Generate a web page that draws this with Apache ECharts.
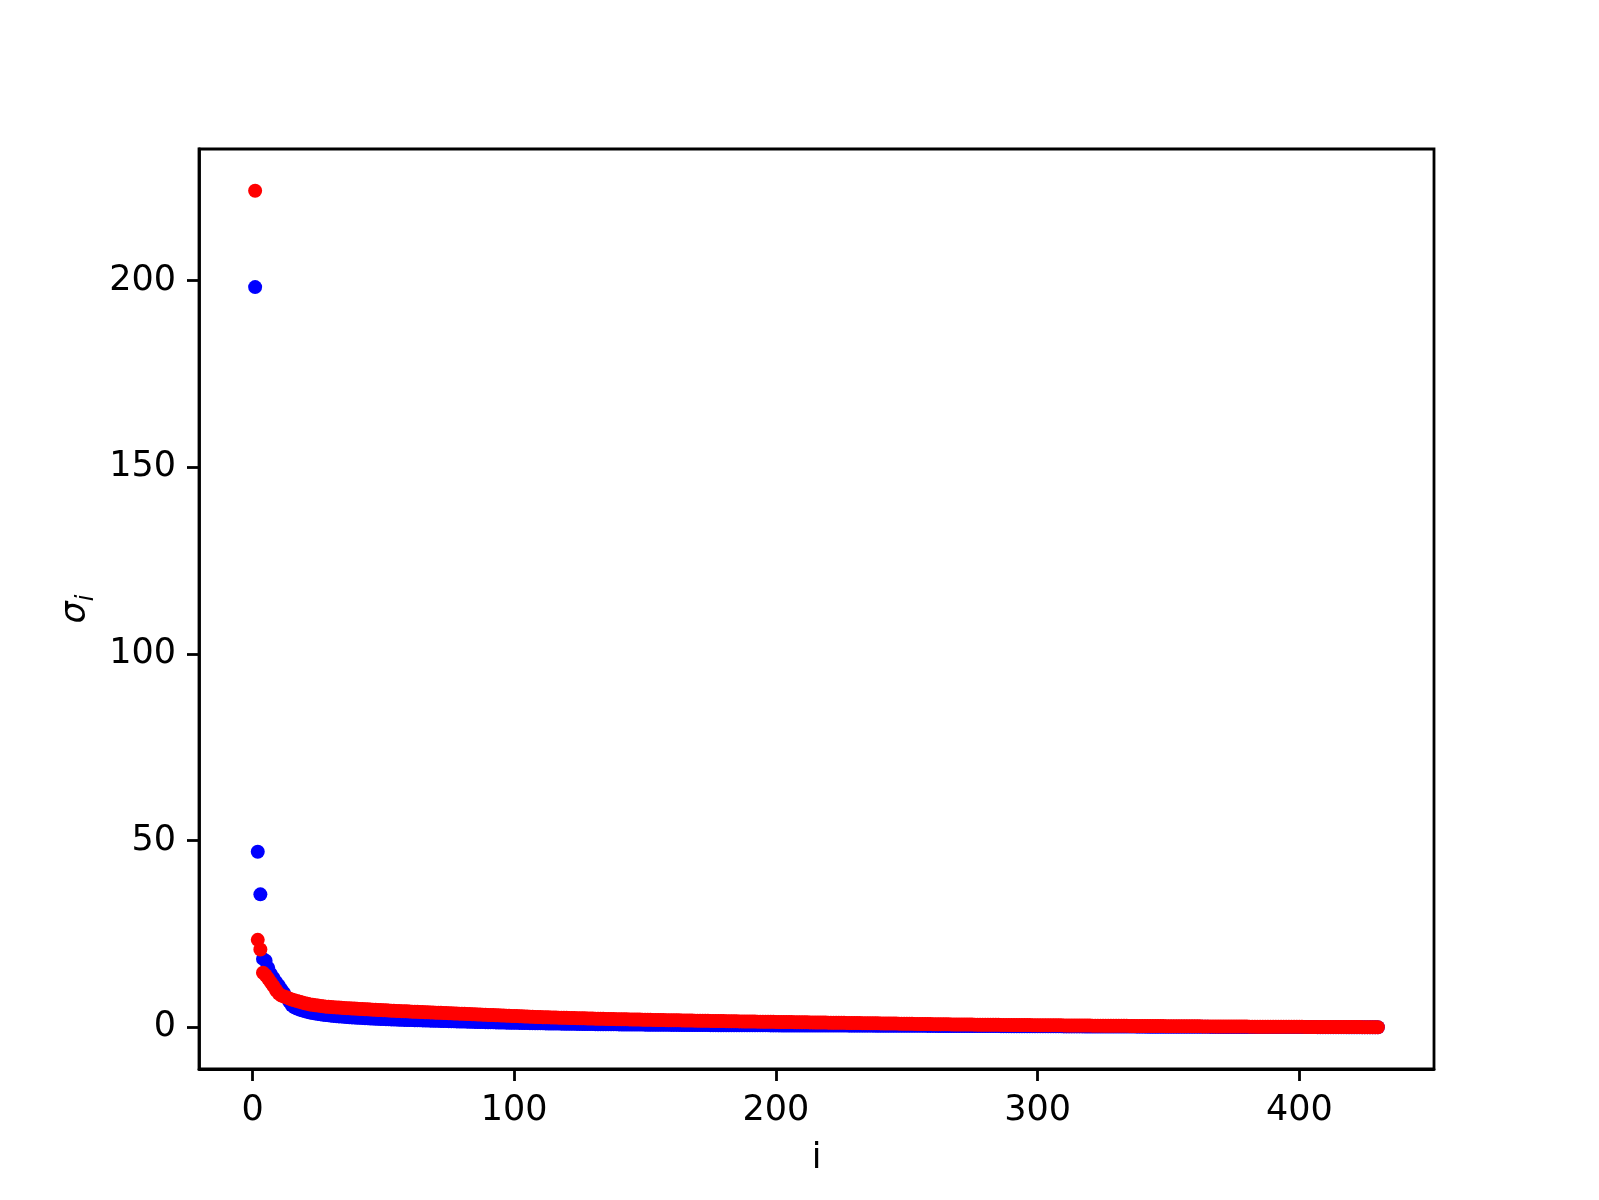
<!DOCTYPE html>
<html>
<head>
<meta charset="utf-8">
<script src="https://cdn.jsdelivr.net/npm/echarts@6/dist/echarts.min.js"></script>
<style>
html,body{margin:0;padding:0;background:#fff;}
#chart{width:1599px;height:1200px;}
</style>
</head>
<body>
<div id="chart"></div>
<script>
// singular values, blue series (index 1..430)
const blueValues = [
198.3, 47.0, 35.6, 18.3, 17.8, 15.9, 14.3, 13.2, 12.1, 11.2,
10.1, 9.2, 8.0, 6.9, 5.9, 5.3, 5.0, 4.7, 4.5, 4.3,
4.1, 3.95, 3.8, 3.68, 3.56, 3.45, 3.35, 3.26, 3.18, 3.10,
3.03, 2.96, 2.90, 2.84, 2.78, 2.73, 2.68, 2.63, 2.58, 2.54,
2.50, 2.46, 2.42, 2.38, 2.34, 2.30, 2.27, 2.24, 2.21, 2.18,
2.15, 2.12, 2.09, 2.06, 2.03, 2.00, 1.98, 1.96, 1.94, 1.92,
1.90, 1.88, 1.86, 1.84, 1.82, 1.80, 1.78, 1.76, 1.74, 1.72,
1.70, 1.68, 1.66, 1.64, 1.62, 1.60, 1.58, 1.56, 1.54, 1.52,
1.50, 1.48, 1.46, 1.44, 1.42, 1.40, 1.39, 1.37, 1.35, 1.34,
1.32, 1.30, 1.29, 1.27, 1.25, 1.24, 1.22, 1.21, 1.19, 1.18,
1.16, 1.15, 1.13, 1.12, 1.11, 1.09, 1.08, 1.07, 1.05, 1.04,
1.03, 1.02, 1.00, 0.99, 0.98, 0.97, 0.96, 0.95, 0.94, 0.93,
0.92, 0.91, 0.90, 0.89, 0.88, 0.87, 0.86, 0.85, 0.84, 0.83,
0.82, 0.81, 0.80, 0.80, 0.79, 0.78, 0.77, 0.76, 0.76, 0.75,
0.74, 0.73, 0.73, 0.72, 0.71, 0.71, 0.70, 0.69, 0.69, 0.68,
0.67, 0.67, 0.66, 0.66, 0.65, 0.64, 0.64, 0.63, 0.63, 0.62,
0.62, 0.61, 0.61, 0.60, 0.60, 0.59, 0.59, 0.58, 0.58, 0.57,
0.57, 0.57, 0.56, 0.56, 0.55, 0.55, 0.55, 0.54, 0.54, 0.54,
0.53, 0.53, 0.53, 0.52, 0.52, 0.52, 0.51, 0.51, 0.51, 0.50,
0.50, 0.50, 0.50, 0.49, 0.49, 0.49, 0.49, 0.48, 0.48, 0.48,
0.48, 0.47, 0.47, 0.47, 0.47, 0.47, 0.46, 0.46, 0.46, 0.46,
0.46, 0.45, 0.45, 0.45, 0.45, 0.45, 0.44, 0.44, 0.44, 0.44,
0.44, 0.44, 0.43, 0.43, 0.43, 0.43, 0.43, 0.42, 0.42, 0.42,
0.42, 0.42, 0.41, 0.41, 0.41, 0.41, 0.41, 0.40, 0.40, 0.40,
0.40, 0.39, 0.39, 0.39, 0.39, 0.38, 0.38, 0.38, 0.38, 0.37,
0.37, 0.37, 0.37, 0.36, 0.36, 0.36, 0.36, 0.35, 0.35, 0.35,
0.35, 0.34, 0.34, 0.34, 0.34, 0.33, 0.33, 0.33, 0.33, 0.32,
0.32, 0.32, 0.32, 0.31, 0.31, 0.31, 0.31, 0.30, 0.30, 0.30,
0.30, 0.29, 0.29, 0.29, 0.29, 0.28, 0.28, 0.28, 0.28, 0.27,
0.27, 0.27, 0.27, 0.26, 0.26, 0.26, 0.26, 0.25, 0.25, 0.25,
0.25, 0.24, 0.24, 0.24, 0.24, 0.23, 0.23, 0.23, 0.23, 0.22,
0.22, 0.22, 0.22, 0.21, 0.21, 0.21, 0.21, 0.20, 0.20, 0.20,
0.20, 0.19, 0.19, 0.19, 0.19, 0.18, 0.18, 0.18, 0.18, 0.17,
0.17, 0.17, 0.17, 0.16, 0.16, 0.16, 0.16, 0.15, 0.15, 0.15,
0.15, 0.14, 0.14, 0.14, 0.14, 0.13, 0.13, 0.13, 0.13, 0.12,
0.12, 0.12, 0.12, 0.11, 0.11, 0.11, 0.11, 0.10, 0.10, 0.10,
0.10, 0.09, 0.09, 0.09, 0.09, 0.08, 0.08, 0.08, 0.08, 0.07,
0.07, 0.07, 0.07, 0.07, 0.06, 0.06, 0.06, 0.06, 0.06, 0.05,
0.05, 0.05, 0.05, 0.05, 0.05, 0.04, 0.04, 0.04, 0.04, 0.04,
0.04, 0.03, 0.03, 0.03, 0.03, 0.03, 0.03, 0.03, 0.02, 0.02,
0.02, 0.02, 0.02, 0.02, 0.02, 0.02, 0.01, 0.01, 0.01, 0.01,
0.01, 0.01, 0.01, 0.01, 0.01, 0.01, 0.01, 0.00, 0.00, 0.00,
0.00, 0.00, 0.00, 0.00, 0.00, 0.00, 0.00, 0.00, 0.00, 0.00
];

// singular values, red series (index 1..430)
const redValues = [
224.1, 23.4, 20.8, 14.6, 13.9, 13.0, 12.0, 11.0, 9.9, 9.0,
8.5, 8.2, 8.0, 7.7, 7.4, 7.2, 7.0, 6.8, 6.6, 6.4,
6.25, 6.1, 6.0, 5.9, 5.8, 5.7, 5.6, 5.5, 5.45, 5.4,
5.35, 5.3, 5.25, 5.2, 5.15, 5.1, 5.06, 5.02, 4.98, 4.94,
4.9, 4.86, 4.82, 4.78, 4.74, 4.70, 4.66, 4.62, 4.58, 4.55,
4.51, 4.48, 4.44, 4.41, 4.37, 4.34, 4.30, 4.27, 4.24, 4.20,
4.17, 4.14, 4.11, 4.08, 4.05, 4.02, 3.99, 3.96, 3.93, 3.90,
3.87, 3.84, 3.81, 3.78, 3.75, 3.72, 3.69, 3.66, 3.63, 3.60,
3.57, 3.54, 3.51, 3.48, 3.45, 3.42, 3.39, 3.36, 3.33, 3.30,
3.27, 3.24, 3.21, 3.18, 3.15, 3.12, 3.09, 3.06, 3.03, 3.00,
2.97, 2.94, 2.91, 2.88, 2.85, 2.82, 2.79, 2.76, 2.73, 2.70,
2.68, 2.66, 2.64, 2.62, 2.60, 2.58, 2.56, 2.54, 2.52, 2.50,
2.48, 2.46, 2.44, 2.42, 2.40, 2.38, 2.37, 2.35, 2.33, 2.31,
2.29, 2.28, 2.26, 2.24, 2.23, 2.21, 2.19, 2.18, 2.16, 2.15,
2.13, 2.12, 2.10, 2.09, 2.07, 2.06, 2.04, 2.03, 2.01, 2.00,
1.99, 1.97, 1.96, 1.95, 1.93, 1.92, 1.91, 1.89, 1.88, 1.87,
1.86, 1.84, 1.83, 1.82, 1.81, 1.79, 1.78, 1.77, 1.76, 1.75,
1.73, 1.72, 1.71, 1.70, 1.69, 1.68, 1.66, 1.65, 1.64, 1.63,
1.62, 1.61, 1.60, 1.58, 1.57, 1.56, 1.55, 1.54, 1.53, 1.52,
1.51, 1.50, 1.49, 1.48, 1.47, 1.46, 1.45, 1.44, 1.43, 1.42,
1.41, 1.40, 1.39, 1.38, 1.37, 1.36, 1.35, 1.34, 1.33, 1.32,
1.31, 1.30, 1.29, 1.28, 1.27, 1.26, 1.25, 1.24, 1.23, 1.22,
1.21, 1.20, 1.19, 1.18, 1.17, 1.16, 1.15, 1.14, 1.13, 1.12,
1.11, 1.10, 1.09, 1.08, 1.07, 1.06, 1.05, 1.04, 1.03, 1.02,
1.01, 1.00, 0.99, 0.98, 0.97, 0.96, 0.95, 0.94, 0.93, 0.92,
0.91, 0.90, 0.89, 0.88, 0.87, 0.86, 0.85, 0.84, 0.83, 0.82,
0.81, 0.80, 0.79, 0.78, 0.77, 0.76, 0.75, 0.74, 0.73, 0.72,
0.71, 0.71, 0.70, 0.70, 0.69, 0.68, 0.68, 0.67, 0.67, 0.66,
0.65, 0.65, 0.64, 0.64, 0.63, 0.62, 0.62, 0.61, 0.61, 0.60,
0.59, 0.59, 0.58, 0.58, 0.57, 0.56, 0.56, 0.55, 0.55, 0.54,
0.53, 0.53, 0.52, 0.52, 0.51, 0.50, 0.50, 0.49, 0.49, 0.48,
0.47, 0.47, 0.46, 0.46, 0.45, 0.45, 0.44, 0.44, 0.43, 0.43,
0.42, 0.42, 0.41, 0.41, 0.40, 0.40, 0.39, 0.39, 0.38, 0.38,
0.37, 0.37, 0.36, 0.36, 0.35, 0.35, 0.34, 0.34, 0.33, 0.33,
0.32, 0.32, 0.31, 0.31, 0.30, 0.30, 0.29, 0.29, 0.28, 0.28,
0.27, 0.27, 0.26, 0.26, 0.26, 0.25, 0.25, 0.24, 0.24, 0.24,
0.23, 0.23, 0.22, 0.22, 0.22, 0.21, 0.21, 0.20, 0.20, 0.20,
0.19, 0.19, 0.18, 0.18, 0.18, 0.17, 0.17, 0.16, 0.16, 0.16,
0.15, 0.15, 0.15, 0.14, 0.14, 0.14, 0.13, 0.13, 0.13, 0.12,
0.12, 0.12, 0.11, 0.11, 0.11, 0.10, 0.10, 0.10, 0.09, 0.09,
0.09, 0.08, 0.08, 0.08, 0.07, 0.07, 0.07, 0.06, 0.06, 0.06,
0.05, 0.05, 0.05, 0.04, 0.04, 0.04, 0.03, 0.03, 0.03, 0.02,
0.02, 0.02, 0.02, 0.01, 0.01, 0.01, 0.01, 0.00, 0.00, 0.00
];

const xTickValues = [0, 100, 200, 300, 400];
const yTickValues = [0, 50, 100, 150, 200];
const xAxisName = 'i';

const blueData = blueValues.map((v, k) => [k + 1, v]);
const redData = redValues.map((v, k) => [k + 1, v]);

const FONT = 'DejaVu Sans';
const LW = 2.8;

const chart = echarts.init(document.getElementById('chart'), null, {renderer: 'canvas'});
chart.setOption({
  animation: false,
  backgroundColor: '#ffffff',
  grid: {
    left: 199, right: 165, top: 149, bottom: 131,
    show: true, borderColor: '#000', borderWidth: LW, backgroundColor: 'transparent'
  },
  xAxis: {
    type: 'value',
    min: -20.45, max: 451.45,
    name: xAxisName,
    nameLocation: 'middle',
    nameGap: 72,
    nameTextStyle: {fontFamily: FONT, fontSize: 35, color: '#000'},
    axisLine: {show: true, onZero: false, lineStyle: {color: '#000', width: LW}},
    axisTick: {show: true, inside: false, length: 12, customValues: xTickValues, lineStyle: {color: '#000', width: LW}},
    axisLabel: {show: true, margin: 24, customValues: xTickValues, fontFamily: FONT, fontSize: 35, color: '#000'},
    splitLine: {show: false}
  },
  yAxis: {
    type: 'value',
    min: -11.2, max: 235.3,
    name: '{a|σ}{b|i}',
    nameLocation: 'middle',
    nameGap: 96,
    nameRotate: 90,
    nameTextStyle: {
      color: '#000',
      rich: {
        a: {fontFamily: FONT, fontSize: 35, fontStyle: 'italic', color: '#000', lineHeight: 44, verticalAlign: 'middle'},
        b: {fontFamily: FONT, fontSize: 24, fontStyle: 'italic', color: '#000', lineHeight: 24, verticalAlign: 'bottom'}
      }
    },
    axisLine: {show: true, onZero: false, lineStyle: {color: '#000', width: LW}},
    axisTick: {show: true, inside: false, length: 12, customValues: yTickValues, lineStyle: {color: '#000', width: LW}},
    axisLabel: {show: true, margin: 23, customValues: yTickValues, fontFamily: FONT, fontSize: 35, color: '#000'},
    splitLine: {show: false}
  },
  series: [
    {
      type: 'scatter', name: 'blue', data: blueData,
      symbol: 'circle', symbolSize: 14,
      itemStyle: {color: '#0000ff', opacity: 1},
      emphasis: {disabled: true}
    },
    {
      type: 'scatter', name: 'red', data: redData,
      symbol: 'circle', symbolSize: 14,
      itemStyle: {color: '#ff0000', opacity: 1},
      emphasis: {disabled: true}
    }
  ]
});
</script>
</body>
</html>
